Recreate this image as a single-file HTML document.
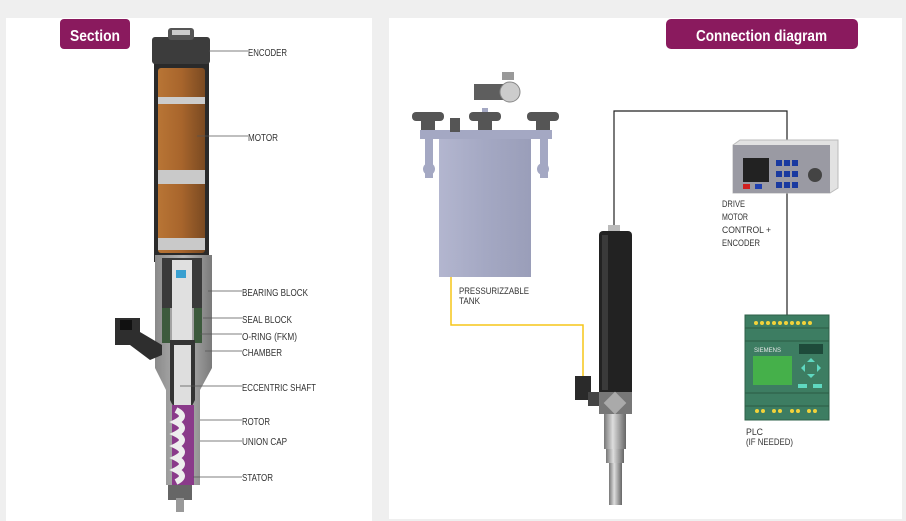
<!DOCTYPE html>
<html><head><meta charset="utf-8"><style>
html,body{margin:0;padding:0;background:#efefef;}
svg{display:block}
text{font-family:"Liberation Sans Narrow","Liberation Sans",sans-serif;}
</style></head><body>
<svg width="906" height="521" viewBox="0 0 906 521" xmlns="http://www.w3.org/2000/svg">
<defs>
<linearGradient id="brown" x1="0" x2="1"><stop offset="0" stop-color="#b87535"/><stop offset="0.5" stop-color="#a8652c"/><stop offset="1" stop-color="#7a4a22"/></linearGradient>
<linearGradient id="tank" x1="0" x2="1"><stop offset="0" stop-color="#b3b6cf"/><stop offset="0.5" stop-color="#a4a8c3"/><stop offset="1" stop-color="#9a9eb9"/></linearGradient>
<linearGradient id="silver" x1="0" x2="1"><stop offset="0" stop-color="#777"/><stop offset="0.4" stop-color="#ddd"/><stop offset="1" stop-color="#666"/></linearGradient>
<linearGradient id="gray" x1="0" x2="1"><stop offset="0" stop-color="#8a8a8a"/><stop offset="0.5" stop-color="#b5b5b5"/><stop offset="1" stop-color="#7a7a7a"/></linearGradient>
</defs>
<rect width="906" height="521" fill="#efefef"/>
<rect x="6" y="18" width="366" height="503" fill="#fff"/>
<rect x="389" y="18" width="513" height="501" fill="#fff"/>

<!-- Tabs -->
<rect x="60" y="19" width="70" height="30" rx="4" fill="#8a1a5e"/>
<text x="70" y="41" fill="#fff" font-size="16" font-weight="bold" textLength="50" lengthAdjust="spacingAndGlyphs">Section</text>
<rect x="666" y="19" width="192" height="30" rx="5" fill="#8a1a5e"/>
<text x="696" y="41" fill="#fff" font-size="16" font-weight="bold" textLength="131" lengthAdjust="spacingAndGlyphs">Connection diagram</text>

<!-- Left pump -->
<rect x="154" y="62" width="55" height="200" fill="#2a2a2a"/>
<rect x="158" y="68" width="47" height="185" rx="3" fill="url(#brown)"/>
<rect x="158" y="97" width="47" height="7" fill="#ccc"/>
<rect x="158" y="170" width="47" height="14" fill="#c9c9c9"/>
<rect x="158" y="238" width="47" height="12" fill="#c9c9c9"/>
<rect x="152" y="37" width="58" height="27" rx="3" fill="#3c3c3c"/>
<rect x="168" y="28" width="26" height="12" rx="3" fill="#555"/>
<rect x="172" y="30" width="18" height="5" fill="#ccc"/>
<path d="M155 255 H212 V368 L200 390 V485 H166 V390 L155 368 Z" fill="url(#gray)"/>
<rect x="162" y="258" width="40" height="50" fill="#3a3a3a"/>
<rect x="172" y="260" width="20" height="150" fill="#e0e0e0"/>
<rect x="176" y="270" width="10" height="8" fill="#3aa0d0"/>
<rect x="162" y="308" width="8" height="35" fill="#3c5a3c"/>
<rect x="194" y="308" width="8" height="35" fill="#3c5a3c"/>
<path d="M170 340 V400 L175 410 H190 L195 400 V340 Z" fill="#333"/>
<path d="M174 345 V405 H191 V345 Z" fill="#dedede"/>
<rect x="172" y="405" width="22" height="80" fill="#8a3a8a"/>
<path d="M176 410 q12 6 0 12 q12 6 0 12 q12 6 0 12 q12 6 0 12 q12 6 0 12 q12 6 0 12" stroke="#eee" stroke-width="6" fill="none"/>
<rect x="168" y="485" width="24" height="15" fill="#666"/>
<rect x="176" y="498" width="8" height="14" fill="#999"/>
<path d="M115 318 H140 V332 L162 345 V355 L150 360 L130 345 H115 Z" fill="#2e2e2e"/>
<rect x="120" y="320" width="12" height="10" fill="#111"/>

<!-- Left labels -->
<g stroke="#555" stroke-width="0.8">
<line x1="209" y1="51" x2="248" y2="51"/>
<line x1="197" y1="136" x2="248" y2="136"/>
<line x1="208" y1="291" x2="242" y2="291"/>
<line x1="203" y1="318" x2="242" y2="318"/>
<line x1="200" y1="334" x2="242" y2="334"/>
<line x1="205" y1="351" x2="242" y2="351"/>
<line x1="180" y1="386" x2="242" y2="386"/>
<line x1="200" y1="420" x2="242" y2="420"/>
<line x1="200" y1="441" x2="242" y2="441"/>
<line x1="193" y1="477" x2="242" y2="477"/>
</g>
<g font-size="10" fill="#333">
<text x="248" y="56" textLength="39" lengthAdjust="spacingAndGlyphs">ENCODER</text>
<text x="248" y="141" textLength="30" lengthAdjust="spacingAndGlyphs">MOTOR</text>
<text x="242" y="296" textLength="66" lengthAdjust="spacingAndGlyphs">BEARING BLOCK</text>
<text x="242" y="323" textLength="50" lengthAdjust="spacingAndGlyphs">SEAL BLOCK</text>
<text x="242" y="340" textLength="55" lengthAdjust="spacingAndGlyphs">O-RING (FKM)</text>
<text x="242" y="356" textLength="40" lengthAdjust="spacingAndGlyphs">CHAMBER</text>
<text x="242" y="391" textLength="74" lengthAdjust="spacingAndGlyphs">ECCENTRIC SHAFT</text>
<text x="242" y="425" textLength="28" lengthAdjust="spacingAndGlyphs">ROTOR</text>
<text x="242" y="445" textLength="45" lengthAdjust="spacingAndGlyphs">UNION CAP</text>
<text x="242" y="481" textLength="31" lengthAdjust="spacingAndGlyphs">STATOR</text>
</g>

<!-- Tank -->
<rect x="439" y="135" width="92" height="142" fill="url(#tank)"/>
<rect x="420" y="130" width="132" height="9" fill="#a4a8c3"/>
<rect x="425" y="138" width="8" height="40" fill="#a4a8c3"/>
<rect x="540" y="138" width="8" height="40" fill="#a4a8c3"/>
<circle cx="429" cy="169" r="6" fill="#a4a8c3"/>
<circle cx="543" cy="169" r="6" fill="#a4a8c3"/>
<rect x="482" y="108" width="6" height="32" fill="#a4a8c3"/>
<g fill="#555">
<rect x="412" y="112" width="32" height="9" rx="4"/><rect x="421" y="118" width="14" height="12"/>
<rect x="469" y="112" width="32" height="9" rx="4"/><rect x="478" y="118" width="14" height="12"/>
<rect x="527" y="112" width="32" height="9" rx="4"/><rect x="536" y="118" width="14" height="12"/>
<rect x="450" y="118" width="10" height="14"/>
<rect x="474" y="84" width="30" height="16" fill="#5e5e5e"/>
</g>
<circle cx="510" cy="92" r="10" fill="#ccc" stroke="#888"/>
<rect x="502" y="72" width="12" height="8" fill="#999"/>
<text x="459" y="294" font-size="9.5" fill="#333" textLength="70" lengthAdjust="spacingAndGlyphs">PRESSURIZZABLE</text>
<text x="459" y="304" font-size="9.5" fill="#333" textLength="21" lengthAdjust="spacingAndGlyphs">TANK</text>

<!-- Connectors -->
<polyline points="451,277 451,325 583,325 583,378" fill="none" stroke="#f5c518" stroke-width="1.5"/>
<polyline points="614,228 614,111 787,111 787,145" fill="none" stroke="#222" stroke-width="1.2"/>
<line x1="787" y1="193" x2="787" y2="316" stroke="#222" stroke-width="1.2"/>

<!-- Dispenser -->
<rect x="608" y="225" width="12" height="8" fill="#bbb"/>
<rect x="599" y="231" width="33" height="165" rx="4" fill="#222"/>
<rect x="602" y="235" width="6" height="155" fill="#3a3a3a"/>
<rect x="575" y="376" width="16" height="24" fill="#2a2a2a"/>
<rect x="588" y="392" width="14" height="14" fill="#444"/>
<rect x="599" y="392" width="33" height="22" fill="#777"/>
<rect x="607" y="395" width="16" height="16" fill="#aaa" transform="rotate(45 615 403)"/>
<rect x="604" y="414" width="22" height="35" fill="url(#silver)"/>
<rect x="606" y="449" width="18" height="14" fill="url(#silver)"/>
<rect x="609" y="463" width="13" height="42" fill="url(#silver)"/>

<!-- Controller -->
<path d="M733 145 L740 140 H838 V188 L830 193 H733 Z" fill="#e2e2e2" stroke="#bbb"/>
<rect x="733" y="145" width="97" height="48" fill="#9a9aa3"/>
<rect x="743" y="158" width="26" height="24" fill="#222"/>
<rect x="743" y="184" width="7" height="5" fill="#d02020"/>
<rect x="755" y="184" width="7" height="5" fill="#2040b0"/>
<g fill="#1a3aa0">
<rect x="776" y="160" width="6" height="6"/><rect x="784" y="160" width="6" height="6"/><rect x="792" y="160" width="6" height="6"/>
<rect x="776" y="171" width="6" height="6"/><rect x="784" y="171" width="6" height="6"/><rect x="792" y="171" width="6" height="6"/>
<rect x="776" y="182" width="6" height="6"/><rect x="784" y="182" width="6" height="6"/><rect x="792" y="182" width="6" height="6"/>
</g>
<circle cx="815" cy="175" r="7" fill="#444"/>
<g font-size="9.5" fill="#333">
<text x="722" y="207" textLength="23" lengthAdjust="spacingAndGlyphs">DRIVE</text>
<text x="722" y="220" textLength="26" lengthAdjust="spacingAndGlyphs">MOTOR</text>
<text x="722" y="233" textLength="49" lengthAdjust="spacingAndGlyphs">CONTROL +</text>
<text x="722" y="246" textLength="38" lengthAdjust="spacingAndGlyphs">ENCODER</text>
</g>

<!-- PLC -->
<rect x="745" y="315" width="84" height="105" fill="#3d7d62" stroke="#2e6048"/>
<line x1="745" y1="328" x2="829" y2="328" stroke="#2a5a44"/>
<line x1="745" y1="341" x2="829" y2="341" stroke="#2a5a44"/>
<line x1="745" y1="393" x2="829" y2="393" stroke="#2a5a44"/>
<line x1="745" y1="406" x2="829" y2="406" stroke="#2a5a44"/>
<g fill="#f2d23a">
<circle cx="756" cy="323" r="2"/><circle cx="762" cy="323" r="2"/><circle cx="768" cy="323" r="2"/><circle cx="774" cy="323" r="2"/><circle cx="780" cy="323" r="2"/><circle cx="786" cy="323" r="2"/><circle cx="792" cy="323" r="2"/><circle cx="798" cy="323" r="2"/><circle cx="804" cy="323" r="2"/><circle cx="810" cy="323" r="2"/>
<circle cx="757" cy="411" r="2"/><circle cx="763" cy="411" r="2"/><circle cx="774" cy="411" r="2"/><circle cx="780" cy="411" r="2"/><circle cx="792" cy="411" r="2"/><circle cx="798" cy="411" r="2"/><circle cx="809" cy="411" r="2"/><circle cx="815" cy="411" r="2"/>
</g>
<text x="754" y="352" font-size="6" fill="#e8e8e8" font-family="Liberation Serif,serif">SIEMENS</text>
<rect x="799" y="344" width="24" height="10" fill="#1e4a3a"/>
<rect x="753" y="356" width="39" height="29" fill="#45b04a"/>
<g fill="#5fd8c0">
<polygon points="811,358 815,362 807,362"/><polygon points="811,378 815,374 807,374"/>
<polygon points="801,368 805,364 805,372"/><polygon points="821,368 817,364 817,372"/>
<rect x="798" y="384" width="9" height="4"/><rect x="813" y="384" width="9" height="4"/>
</g>
<text x="746" y="435" font-size="9.5" fill="#333" textLength="17" lengthAdjust="spacingAndGlyphs">PLC</text>
<text x="746" y="445" font-size="9.5" fill="#333" textLength="47" lengthAdjust="spacingAndGlyphs">(IF NEEDED)</text>
</svg>
</body></html>
